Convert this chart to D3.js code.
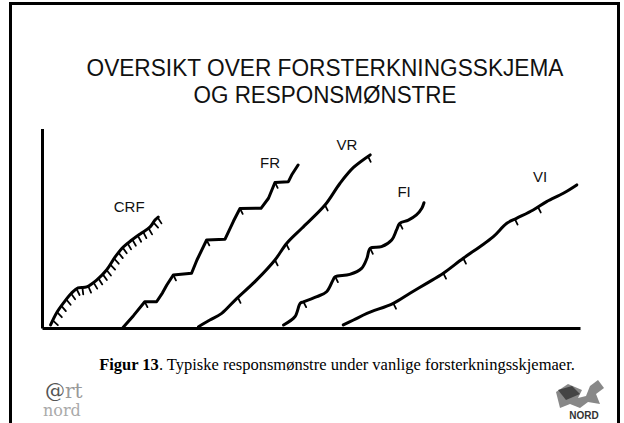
<!DOCTYPE html>
<html>
<head>
<meta charset="utf-8">
<script src="https://cdn.jsdelivr.net/npm/d3@7"></script>
<style>
body { margin: 0; background: #fff; }
svg { display: block; }
</style>
</head>
<body>
<svg></svg>
<script>
// cumulative records, x = time, y = cumulative responses (0-100 units)
var seriesNames = ["CRF", "FR", "VR", "FI", "VI"]

var crfX = [1.6, 2.7, 4.0, 5.5, 6.7, 8.3, 10.2, 12.0, 13.6, 15.1, 16.7, 18.5, 20.1, 21.0, 21.6]
var crfY = [1.6, 7.9, 13.2, 18.4, 21.1, 21.6, 25.3, 30.5, 37.4, 42.6, 46.3, 50.0, 53.2, 56.8, 58.4]
var crfTicks = [2.0, 2.8, 3.6, 4.5, 5.4, 6.4, 7.5, 8.6, 9.6, 10.5, 11.3, 12.0, 12.7, 13.4, 14.2, 15.0, 15.9, 16.8, 17.8, 18.8, 19.8, 20.7, 21.5]

var frX = [15.1, 17.0, 19.1, 21.3, 22.4, 23.2, 24.4, 27.8, 28.8, 30.6, 34.0, 35.6, 36.8, 40.7, 42.1, 43.3, 45.8, 46.4, 47.6]
var frY = [0.4, 6.5, 13.8, 13.8, 18.5, 22.6, 27.9, 28.8, 35.8, 46.3, 46.7, 56.3, 62.9, 63.0, 68.3, 76.6, 77.0, 80.5, 85.8]
var frTicks = [19.1, 24.4, 30.6, 36.8, 43.3]

var vrX = [29.1, 31.2, 33.4, 35.9, 39.9, 43.3, 45.5, 48.3, 52.6, 55.4, 57.9, 61.0]
var vrY = [0.7, 4.2, 7.7, 14.7, 25.3, 35.8, 44.6, 52.5, 64.7, 76.2, 84.5, 91.1]
var vrTicks = [36.4, 43.3, 45.4, 52.6, 60.6]

var fiX = [44.9, 47.0, 48.0, 48.6, 51.1, 52.9, 54.1, 54.5, 57.2, 59.4, 60.4, 61.0, 63.1, 65.0, 65.9, 66.5, 68.1, 69.6, 70.6, 71.0]
var fiY = [1.6, 5.9, 13.0, 13.8, 16.5, 19.1, 25.3, 27.0, 28.2, 31.4, 36.7, 41.9, 42.8, 46.3, 51.6, 55.1, 56.8, 59.5, 63.0, 65.9]
var fiTicks = [48.6, 54.5, 61.0, 66.5]

var viX = [56.0, 57.9, 60.4, 65.3, 68.4, 71.5, 74.6, 78.3, 81.4, 83.9, 86.4, 88.2, 91.3, 93.8, 96.9, 99.4]
var viY = [1.6, 4.2, 7.7, 13.0, 18.3, 23.5, 28.8, 36.7, 42.8, 48.1, 55.1, 57.7, 62.1, 66.5, 70.9, 75.3]
var viTicks = [65.3, 74.6, 78.3, 87.9, 92.2]

// where each curve name is written
var labelX = [16.2, 42.4, 56.7, 67.3, 92.6]
var labelY = [61.0, 84.2, 93.7, 69.0, 76.8]

var titleLines = ["OVERSIKT OVER FORSTERKNINGSSKJEMA", "OG RESPONSMØNSTRE"]
var titleWidths = [477, 263]

var screen = {width: 624, height: 423}

var svg = d3.select("svg")
    .attr("width", screen.width)
    .attr("height", screen.height)

svg.append("rect")
    .attr("width", screen.width)
    .attr("height", screen.height)
    .attr("fill", "#fff")

// slide frame
svg.append("rect")
    .attr("x", 10.5)
    .attr("y", 3.5)
    .attr("width", 608)
    .attr("height", 440)
    .attr("fill", "none")
    .attr("stroke", "#000")
    .attr("stroke-width", 3)

// no narrow font here, so squeeze the title to the width it has in the slide
svg.selectAll(".title")
    .data(titleLines)
    .enter()
    .append("text")
    .attr("class", "title")
    .attr("x", 325)
    .attr("y", function(d, i) { return 76 + i * 27 })
    .attr("text-anchor", "middle")
    .attr("font-family", "'Liberation Sans Narrow', 'Arial Narrow', 'Liberation Sans', sans-serif")
    .attr("font-size", 23)
    .attr("textLength", function(d, i) { return titleWidths[i] })
    .attr("lengthAdjust", "spacingAndGlyphs")
    .attr("fill", "#111")
    .text(function(d) { return d })

var xScale = d3.scaleLinear().domain([0, 100]).range([42, 580])
var yScale = d3.scaleLinear().domain([0, 100]).range([328, 138])

// axes, no ticks, just the heavy lines
var g = svg.append("g")
g.append("g")
    .attr("transform", "translate(0," + yScale(0) + ")")
    .call(d3.axisBottom(xScale).tickValues([]).tickSizeOuter(0))
g.append("g")
    .attr("transform", "translate(" + xScale(0) + ",0)")
    .call(d3.axisLeft(yScale.copy().domain([0, 105]).range([yScale(0), yScale(105)])).tickValues([]).tickSizeOuter(0))
g.selectAll(".domain")
    .attr("stroke", "#000")
    .attr("stroke-width", 3)

var curves = [
    {name: "CRF", xs: crfX, ys: crfY, ticks: crfTicks, hatch: true},
    {name: "FR", xs: frX, ys: frY, ticks: frTicks, sharp: true},
    {name: "VR", xs: vrX, ys: vrY, ticks: vrTicks},
    {name: "FI", xs: fiX, ys: fiY, ticks: fiTicks},
    {name: "VI", xs: viX, ys: viY, ticks: viTicks}
]

var drawcurve = function(c, i)
{
    var pts = c.xs.map(function(x, j) { return [x, c.ys[j]] })
    var line = d3.line()
        .x(function(p) { return xScale(p[0]) })
        .y(function(p) { return yScale(p[1]) })
        .curve(c.sharp ? d3.curveLinear : d3.curveCatmullRom.alpha(0.5))

    var path = svg.append("path")
        .datum(pts)
        .attr("d", line)
        .attr("fill", "none")
        .attr("stroke", "#000")
        .attr("stroke-width", 3)
        .attr("stroke-linejoin", "round")
        .attr("stroke-linecap", "round")

    var node = path.node()
    var total = node.getTotalLength()

    // find the spot on the drawn curve at a given time
    var pointAt = function(xv)
    {
        var px = xScale(xv)
        var lo = 0, hi = total
        for (var k = 0; k < 30; k++)
        {
            var mid = (lo + hi) / 2
            if (node.getPointAtLength(mid).x < px) lo = mid
            else hi = mid
        }
        return lo
    }

    c.ticks.forEach(function(t)
    {
        var len = pointAt(t)
        var p = node.getPointAtLength(len)
        var a = node.getPointAtLength(Math.max(0, len - 2))
        var b = node.getPointAtLength(Math.min(total, len + 2))
        var tx = b.x - a.x, ty = b.y - a.y
        var n = Math.sqrt(tx * tx + ty * ty) || 1
        tx /= n; ty /= n
        var dx, dy, size
        if (c.hatch)
        {
            // lean the hatches toward vertical like the drawing
            dx = (-ty + 0.2) ; dy = tx + 0.6
            var m = Math.sqrt(dx * dx + dy * dy)
            dx /= m; dy /= m; size = 7
        }
        else
        {
            dx = 0.45; dy = 0.9; size = 6
        }
        svg.append("line")
            .attr("x1", p.x)
            .attr("y1", p.y)
            .attr("x2", p.x + dx * size)
            .attr("y2", p.y + dy * size)
            .attr("stroke", "#000")
            .attr("stroke-width", 1.8)
            .attr("stroke-linecap", "round")
    })

    svg.append("text")
        .attr("x", xScale(labelX[i]))
        .attr("y", yScale(labelY[i]))
        .attr("text-anchor", "middle")
        .attr("font-family", "'Liberation Sans', Arial, sans-serif")
        .attr("font-size", 15)
        .attr("fill", "#111")
        .text(seriesNames[i])
}

curves.forEach(drawcurve)

// caption
var cap = svg.append("text")
    .attr("x", 337)
    .attr("y", 370)
    .attr("text-anchor", "middle")
    .attr("font-family", "'Liberation Serif', 'Times New Roman', serif")
    .attr("font-size", 16.5)
    .attr("fill", "#000")
cap.append("tspan").attr("font-weight", "bold").text("Figur 13")
cap.append("tspan").text(". Typiske responsmønstre under vanlige forsterkningsskjemaer.")

// logos (rough)
var left = svg.append("text").attr("font-family", "'DejaVu Serif', serif")
left.append("tspan").attr("x", 45).attr("y", 398).attr("font-size", 20).attr("fill", "#555").text("@")
left.append("tspan").attr("font-size", 20).attr("fill", "#999").text("rt")
left.append("tspan").attr("x", 43).attr("y", 416).attr("font-size", 16).attr("fill", "#aaa").text("nord")

var right = svg.append("g")
right.append("path")
    .attr("d", "M556,392 L568,384 L582,390 L578,398 L586,396 L590,386 L598,380 L604,388 L596,394 L600,404 L588,402 L580,408 L570,404 L560,408 Z")
    .attr("fill", "#888")
right.append("path")
    .attr("d", "M558,390 L572,386 L580,394 L566,400 Z")
    .attr("fill", "#444")
right.append("text")
    .attr("x", 584)
    .attr("y", 419)
    .attr("text-anchor", "middle")
    .attr("font-family", "'Liberation Sans', Arial, sans-serif")
    .attr("font-weight", "bold")
    .attr("font-size", 10)
    .attr("fill", "#333")
    .text("NORD")
</script>
</body>
</html>
